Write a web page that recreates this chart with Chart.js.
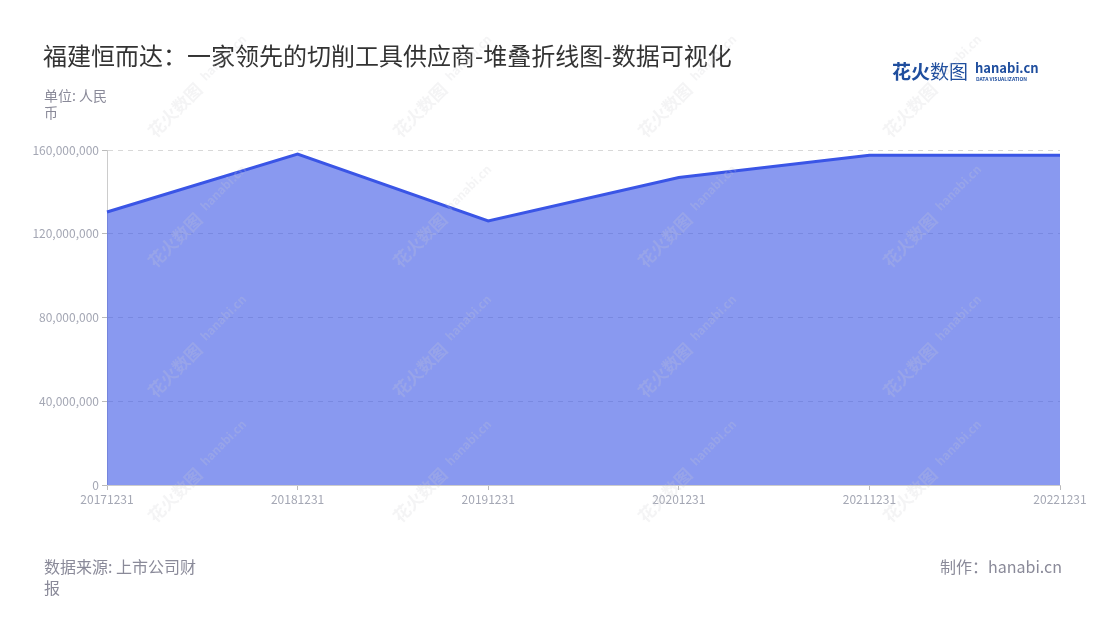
<!DOCTYPE html>
<html>
<head>
<meta charset="utf-8">
<script src="https://cdn.jsdelivr.net/npm/chart.js@4"></script>
<style>
  html, body { margin: 0; padding: 0; background: #fff; }
  #wrap { width: 1100px; height: 620px; position: relative; }
</style>
</head>
<body>
<div id="wrap"><canvas id="chart" width="1100" height="620"></canvas></div>
<script>
// chart data
const dates = ['20171231', '20181231', '20191231', '20201231', '20211231', '20221231'];
const revenue = [130400000, 158100000, 126100000, 146900000, 157500000, 157500000];
const yTicks = [0, 40000000, 80000000, 120000000, 160000000];

const titleText = '福建恒而达：一家领先的切削工具供应商-堆叠折线图-数据可视化';
const unitLines = ['单位: 人民', '币'];
const sourceLines = ['数据来源: 上市公司财', '报'];
const madeBy = '制作：hanabi.cn';

const FONT = '"Noto Sans CJK SC", "Noto Sans", sans-serif';

// titles, logo, footer and watermark drawn on the canvas
const decor = {
    id: 'decor',
    beforeDraw(chart) {
        const ctx = chart.ctx;
        ctx.save();
        ctx.fillStyle = '#fff';
        ctx.fillRect(0, 0, chart.width, chart.height);

        ctx.textBaseline = 'middle';
        ctx.fillStyle = '#333';
        ctx.font = '24px ' + FONT;
        ctx.fillText(titleText, 43, 56);

        ctx.fillStyle = '#8a8a99';
        ctx.font = '14px ' + FONT;
        unitLines.forEach((t, i) => ctx.fillText(t, 44, 96 + i * 17));

        ctx.font = '16px ' + FONT;
        sourceLines.forEach((t, i) => ctx.fillText(t, 44, 567 + i * 21));

        ctx.textAlign = 'right';
        ctx.fillText(madeBy, 1062, 567);

        // logo
        ctx.textAlign = 'left';
        ctx.fillStyle = '#1f4e9e';
        ctx.font = 'bold 19px ' + FONT;
        ctx.fillText('花火', 892, 72);
        ctx.font = '19px ' + FONT;
        ctx.fillText('数图', 930, 72);
        ctx.font = 'bold 13px ' + FONT;
        ctx.fillText('hanabi.cn', 975, 68);
        ctx.font = 'bold 5px ' + FONT;
        ctx.fillText('DATA VISUALIZATION', 976, 79);
        ctx.restore();
    },
    afterDraw(chart) {
        const ctx = chart.ctx;
        ctx.save();
        ctx.fillStyle = 'rgba(205,205,210,0.22)';
        ctx.textBaseline = 'middle';
        const xs = [165, 410, 655, 900];
        const ys = [120, 250, 380, 505];
        xs.forEach(x => ys.forEach(y => {
            ctx.save();
            ctx.translate(x, y);
            ctx.rotate(-Math.PI / 4);
            ctx.font = 'bold 17px ' + FONT;
            ctx.fillText('花火数图', -20, 0);
            ctx.font = 'bold 12px ' + FONT;
            ctx.fillText('hanabi.cn', 56, -3);
            ctx.restore();
        }));
        ctx.restore();
    }
};

const ctx = document.getElementById('chart').getContext('2d');

new Chart(ctx, {
    type: 'line',
    data: {
        labels: dates,
        datasets: [{
            label: '营业收入',
            data: revenue,
            borderColor: '#3a55e6',
            backgroundColor: 'rgba(58,85,230,0.6)',
            borderWidth: 3,
            pointRadius: 0,
            tension: 0,
            fill: 'origin'
        }]
    },
    options: {
        responsive: false,
        animation: false,
        devicePixelRatio: 1,
        layout: { padding: { left: 0, top: 150, right: 40, bottom: 100 } },
        plugins: {
            legend: { display: false },
            tooltip: { enabled: false }
        },
        scales: {
            x: {
                offset: false,
                afterFit: s => { s.height = 35; },
                grid: {
                    drawOnChartArea: false,
                    drawTicks: true,
                    tickLength: 5,
                    tickColor: '#bbb'
                },
                border: { color: '#ccc', width: 1 },
                ticks: {
                    color: '#a4a7b4',
                    font: { size: 12, family: FONT },
                    maxRotation: 0,
                    autoSkip: false,
                    padding: 2
                }
            },
            y: {
                min: 0,
                max: 160000000,
                afterFit: s => { s.width = 107; },
                afterBuildTicks: s => { s.ticks = yTicks.map(v => ({ value: v })); },
                grid: {
                    color: '#d8d8d8',
                    tickColor: '#bbb',
                    tickLength: 5,
                    drawTicks: true
                },
                border: { color: '#ccc', width: 1, dash: [5, 5] },
                ticks: {
                    color: '#a4a7b4',
                    font: { size: 12, family: FONT },
                    padding: 3,
                    callback: v => v.toLocaleString('en-US')
                }
            }
        }
    },
    plugins: [decor]
});
</script>
</body>
</html>
